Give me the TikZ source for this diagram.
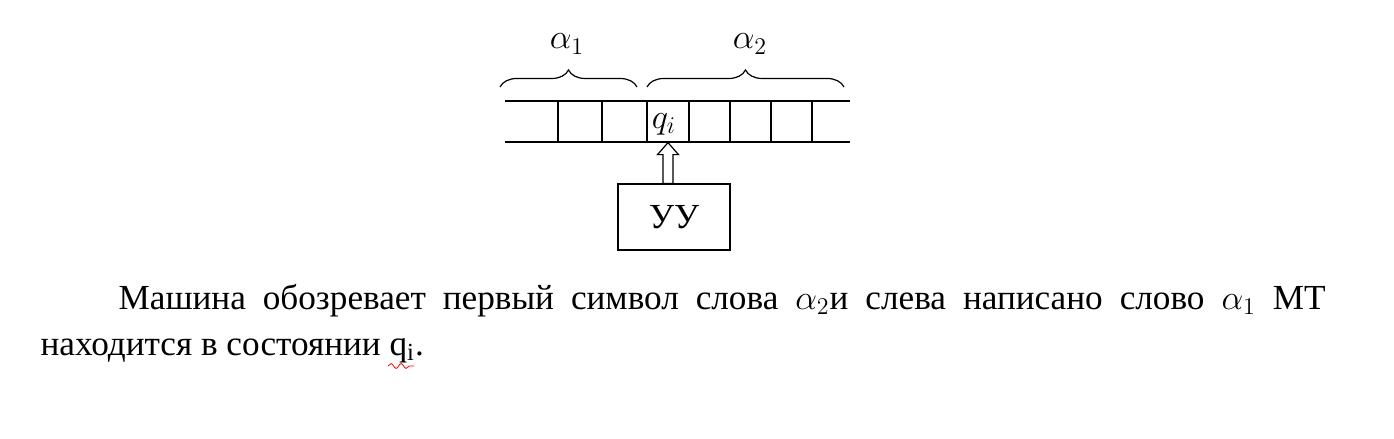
\documentclass[tikz,border=0pt]{standalone}
\usepackage{fontspec}
\setmainfont{Liberation Serif}
\newfontfamily\rufont{Liberation Serif}
\usetikzlibrary{calc,decorations.pathreplacing,decorations.pathmorphing}
\begin{document}
\begin{tikzpicture}[x=0.5pt,y=-0.5pt,line width=0.6pt,
  every node/.style={font=\rufont\fontsize{17.6}{23}\selectfont},
  tape brace/.style={decorate,decoration={brace,amplitude=8.5pt}}]
\useasboundingbox (0,0) rectangle (1394,439);
% \node at (40,20) {tape};
\draw (505,101) -- (850,101);
\draw (505,142) -- (850,142);
\foreach \x in {558,602,647,689,730,771,812}
  \draw (\x,101) -- (\x,142);
\node[inner sep=0, minimum width=21pt, minimum height=20.5pt] (Cell qi) at (668,121.5) {};
\node[inner sep=0] (Head) at (664,124) {$q_i$};

\draw[tape brace] (500,87) -- (637,87);
\node (Alpha 1) at (567,44) {$\alpha_1$};
\draw[tape brace] (647,87) -- (844,87);
\node (Alpha 2) at (750,44) {$\alpha_2$};

\node[draw, minimum width=56pt, minimum height=33pt] (Control) at (674,217) {УУ};
\coordinate (Arrow base) at (Control.north -| Cell qi.south);
\draw[fill=white] (Cell qi.south) -- ++(10.5,12) -- ++(-5.5,0) -- ($(Arrow base)+(5,0)$)
  -- ($(Arrow base)+(-5,0)$) -- ($(Cell qi.south)+(-5,12)$) -- ++(-5.5,0) -- cycle;

\node[anchor=north west, inner sep=0, text width=642.5pt, align=justify] (Text) at (40,284)
  {\hspace*{39pt}Машина обозревает первый символ слова $\alpha_2$и слева написано слово $\alpha_1$ МТ\linebreak
  находится в состоянии q\textsubscript{i}.};
\draw[red, line width=0.4pt, decorate, decoration={snake, amplitude=1.2, segment length=5}] (388,366) -- (414,366);
\end{tikzpicture}
\end{document}
